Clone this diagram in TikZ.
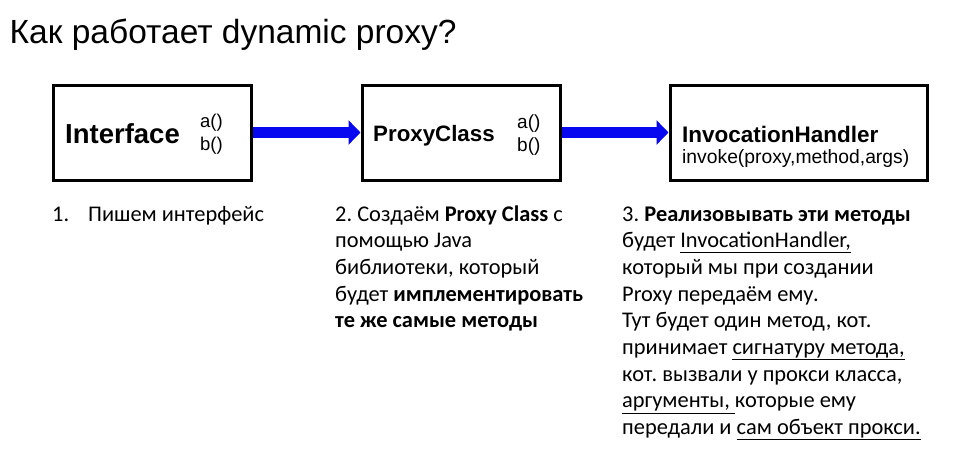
\documentclass[tikz,border=0pt]{standalone}
\usepackage{fontspec}
\setmainfont{Carlito}
\newfontfamily\arial{Liberation Sans}
\usetikzlibrary{arrows.meta}
\frenchspacing

\tikzset{
  classbox/.style={draw=black, line width=3pt, fill=white, inner sep=0pt},
  flow/.style={draw={rgb,255:red,8;green,8;blue,240}, line width=11pt,
    -{Triangle[length=12pt,width=24pt]}},
  boxtitle/.style={anchor=base west, inner sep=0pt, font=\arial\bfseries\fontsize{#1}{#1}\selectfont},
  boxsub/.style={anchor=base west, inner sep=0pt, font=\arial\fontsize{#1}{#1}\selectfont},
  method/.style={anchor=west, inner sep=0pt, font=\arial\fontsize{#1}{#1}\selectfont},
  note/.style={anchor=base west, inner sep=0pt,
    font=\fontsize{22.4}{26.7}\selectfont},
}
% a block of lines whose baseline is that of its first line
\newcommand{\noteblock}[1]{\begin{tabular}[t]{@{}l@{}}#1\end{tabular}}

\begin{document}
\begin{tikzpicture}[x=1pt, y=-1pt]
  \useasboundingbox (0,0) rectangle (954,455);
  \fill[white] (0,0) rectangle (954,455);

  % heading
  \node[anchor=base west, inner sep=0pt, font=\arial\fontsize{33.5}{33.5}\selectfont]
    (title) at (9.5,43) {Как работает dynamic proxy?};

  % the three boxes
  \node[classbox, minimum width=198pt, minimum height=95pt] (iface) at (152,132.5) {};
  \node[classbox, minimum width=198pt, minimum height=95pt] (proxy) at (461,132.5) {};
  \node[classbox, minimum width=257pt, minimum height=95pt] (handler) at (798.5,132.5) {};

  % arrows between the boxes
  \draw[flow] (iface.east) -- (proxy.west);
  \draw[flow] (proxy.east) -- (handler.west);

  % box contents
  \node[boxtitle=27.5] (ifacename) at (65,143) {Interface};
  \node[method=18.5] (ifa) at (200,123) {a()};
  \node[method=18.5] (ifb) at (200,146) {b()};

  \node[boxtitle=22.3] (proxyname) at (373,141) {ProxyClass};
  \node[method=19] (pa) at (517,124) {a()};
  \node[method=19] (pb) at (517,147) {b()};

  \node[boxtitle=22.5] (handlername) at (682,142) {InvocationHandler};
  \node[boxsub=19.3] (invoke) at (682,163) {invoke(proxy,method,args)};

  % explanations under the boxes
  \node[note] (step1) at (52,221) {1.\hspace{19pt}Пишем интерфейс};

  \node[note] (step2) at (335,221) {\noteblock{2. Создаём \textbf{Proxy Class} с\\
    помощью Java\\
    библиотеки, который\\
    будет \textbf{имплементировать}\\
    \textbf{те же самые методы}}};

  \node[note] (step3) at (622,221) {\noteblock{3. \textbf{Реализовывать эти методы}\\
    будет \underline{InvocationHandler,}\\
    который мы при создании\\
    Proxy передаём ему.\\
    Тут будет один метод, кот.\\
    принимает \underline{сигнатуру метода,}\\
    кот. вызвали у прокси класса,\\
    \underline{аргументы,\ }которые ему\\
    передали и \underline{сам объект прокси.}}};
\end{tikzpicture}
\end{document}
